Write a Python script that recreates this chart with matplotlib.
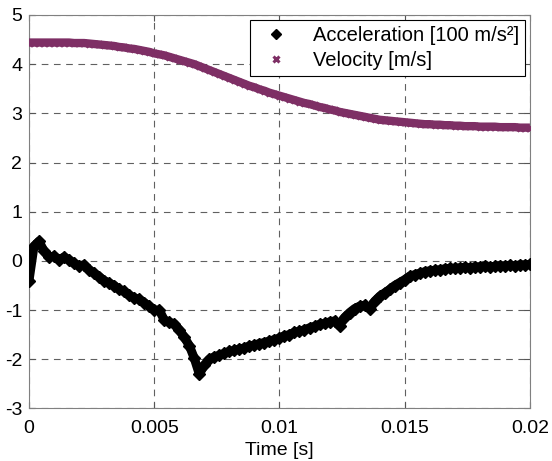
import numpy as np
import matplotlib
matplotlib.use("Agg")
import matplotlib.pyplot as plt

plt.rcParams['font.family'] = ['Liberation Sans', 'DejaVu Sans']
plt.rcParams['axes.unicode_minus'] = False

t_start, t_end = 0.0, 0.02

acceleration = [
    -0.40, 0.30, 0.40, 0.20, 0.08, 0.10, 0.02, 0.08, 0.02, -0.05,
    -0.10, -0.08, -0.18, -0.25, -0.32, -0.40, -0.45, -0.50, -0.58, -0.62,
    -0.70, -0.75, -0.78, -0.85, -0.92, -1.00, -1.00, -1.20, -1.25, -1.28,
    -1.40, -1.55, -1.72, -1.98, -2.30, -2.12, -2.00, -1.95, -1.92, -1.88,
    -1.84, -1.82, -1.79, -1.77, -1.73, -1.71, -1.68, -1.66, -1.63, -1.60,
    -1.57, -1.52, -1.50, -1.45, -1.43, -1.40, -1.36, -1.33, -1.29, -1.27,
    -1.24, -1.22, -1.32, -1.15, -1.05, -0.97, -0.92, -0.90, -0.97, -0.82,
    -0.72, -0.65, -0.58, -0.50, -0.44, -0.38, -0.31, -0.28, -0.25, -0.22,
    -0.20, -0.19, -0.18, -0.16, -0.15, -0.15, -0.14, -0.13, -0.14, -0.12,
    -0.12, -0.11, -0.12, -0.11, -0.10, -0.10, -0.09, -0.10, -0.08, -0.08,
    -0.07,
]

velocity = [
    4.44, 4.44, 4.44, 4.44, 4.44, 4.44, 4.44, 4.44, 4.44, 4.43,
    4.43, 4.43, 4.42, 4.41, 4.40, 4.39, 4.38, 4.37, 4.35, 4.34,
    4.32, 4.31, 4.29, 4.27, 4.25, 4.22, 4.20, 4.18, 4.15, 4.12,
    4.09, 4.06, 4.03, 4.00, 3.96, 3.92, 3.88, 3.84, 3.80, 3.76,
    3.72, 3.68, 3.64, 3.60, 3.56, 3.53, 3.49, 3.46, 3.42, 3.39,
    3.36, 3.33, 3.30, 3.27, 3.24, 3.21, 3.19, 3.16, 3.13, 3.11,
    3.08, 3.06, 3.03, 3.01, 2.99, 2.97, 2.95, 2.93, 2.91, 2.89,
    2.87, 2.86, 2.85, 2.84, 2.83, 2.82, 2.81, 2.80, 2.79, 2.78,
    2.78, 2.77, 2.77, 2.76, 2.76, 2.75, 2.75, 2.74, 2.74, 2.74,
    2.73, 2.73, 2.73, 2.73, 2.72, 2.72, 2.72, 2.72, 2.71, 2.71,
    2.71,
]

x_ticks = [0, 0.005, 0.01, 0.015, 0.02]
x_tick_labels = ['0', '0.005', '0.01', '0.015', '0.02']
y_ticks = [-3, -2, -1, 0, 1, 2, 3, 4, 5]

time = np.linspace(t_start, t_end, len(acceleration))

fig = plt.figure(figsize=(5.52, 4.61), dpi=100)
ax = fig.add_axes([0.0525, 0.1139, 0.9075, 0.8536])

vel_color = '#7e2f65'
# dense marker bands (line joins the marker centres)
ax.plot(time, acceleration, linestyle='-', linewidth=6.5, color='black',
        solid_joinstyle='round', solid_capstyle='round', zorder=3)
ax.plot(time, acceleration, linestyle='none', marker='D', markersize=6.5,
        color='black', markeredgecolor='black', label='Acceleration [100 m/s²]', zorder=3)
ax.plot(time, velocity, linestyle='-', linewidth=6, color=vel_color,
        solid_capstyle='butt', zorder=3)
ax.plot(time, velocity, linestyle='none', marker='x', markersize=5, markeredgewidth=2.2,
        color=vel_color, label='Velocity [m/s]', zorder=3)

ax.set_xlim(0, 0.02)
ax.set_ylim(-3, 5)
ax.set_xticks(x_ticks)
ax.set_xticklabels(x_tick_labels)
ax.set_yticks(y_ticks)
ax.tick_params(axis='both', direction='in', top=True, right=True, labelsize=14, length=4,
               color='#555555')
ax.tick_params(axis='x', pad=8)
ax.tick_params(axis='y', pad=5)
for s in ax.spines.values():
    s.set_color('#808080')
    s.set_linewidth(0.8)
ax.grid(True, linestyle=(0, (6, 5)), color='#606060', linewidth=0.8)
ax.set_axisbelow(True)
ax.set_xlabel('Time [s]', fontsize=14, labelpad=4)

leg = ax.legend(loc='upper right', fontsize=14.5, frameon=True, fancybox=False,
                borderaxespad=0.25, handletextpad=0.8, borderpad=0.3, labelspacing=0.3,
                markerscale=0.8, handlelength=2.0)
leg.get_frame().set_edgecolor('black')
leg.get_frame().set_linewidth(0.8)
leg.get_frame().set_alpha(1)

fig.savefig('out.png', dpi=100)
